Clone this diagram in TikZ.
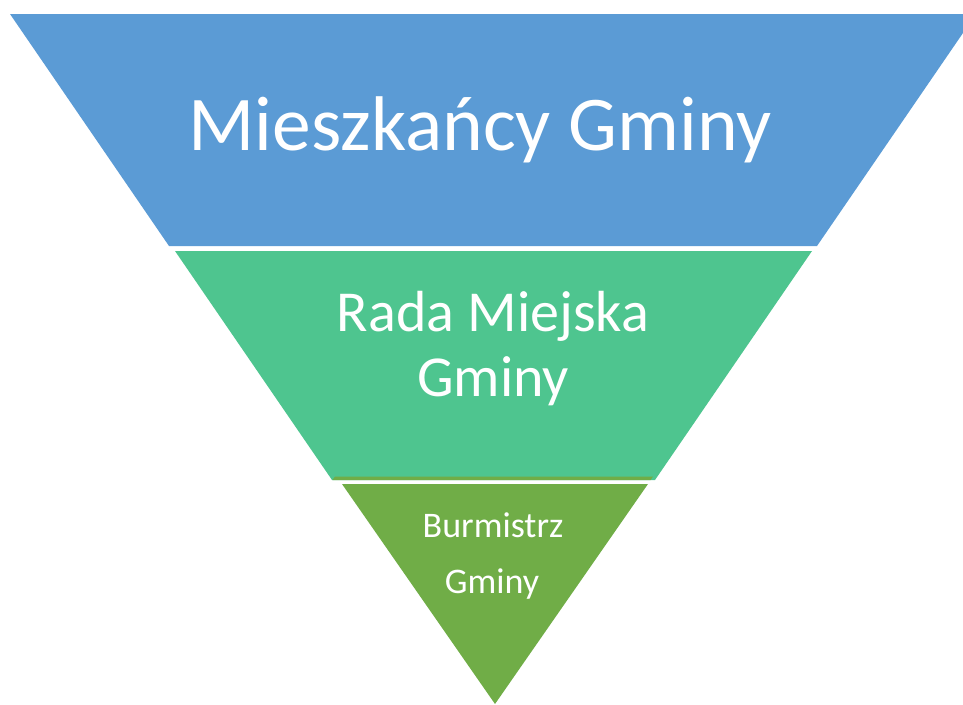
\documentclass[tikz,border=0pt]{standalone}
\usepackage{fontspec}
\setmainfont{Carlito}
\definecolor{blueL}{HTML}{5B9BD5}
\definecolor{tealL}{HTML}{4EC58F}
\definecolor{oliveL}{HTML}{70AD47}
\begin{document}
\begin{tikzpicture}[x=1pt,y=-1pt,
  lbl/.style={text=white,inner sep=0pt,anchor=base}]
\useasboundingbox (0,0) rectangle (963,704);
\begin{scope}
\clip (0,0) rectangle (963,704);
\fill[blueL] (10,14) -- (976,14) -- (817,246) -- (169,246) -- cycle;
\fill[tealL] (175,251) -- (812,251) -- (655,480) -- (332,480) -- cycle;
\fill[oliveL] (335,476.5) -- (653,476.5) -- (650.6,480) -- (332.5,480) -- cycle;
\fill[oliveL] (342,484) -- (648,484) -- (495,704) -- cycle;
\end{scope}
\node[lbl,font=\fontsize{77.5}{90}\selectfont] (t1) at (480,150) {Mieszkańcy Gminy};
\node[lbl,font=\fontsize{58}{66}\selectfont] (t2a) at (493,331) {Rada Miejska};
\node[lbl,font=\fontsize{58}{66}\selectfont] (t2b) at (493,396) {Gminy};
\node[lbl,font=\fontsize{36}{42}\selectfont] (t3a) at (493,537) {Burmistrz};
\node[lbl,font=\fontsize{36}{42}\selectfont] (t3b) at (492,593) {Gminy};
\end{tikzpicture}
\end{document}
